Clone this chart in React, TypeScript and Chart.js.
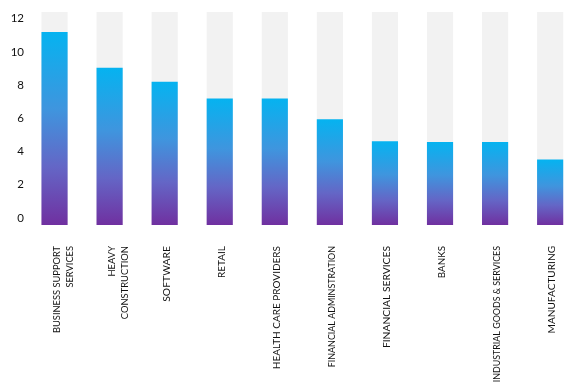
import React, { useEffect, useRef } from "react";
import { Chart, registerables } from "chart.js";

Chart.register(...registerables);

const categories: (string | string[])[] = [
  ["BUSINESS SUPPORT", "SERVICES"],
  ["HEAVY", "CONSTRUCTION"],
  "SOFTWARE",
  "RETAIL",
  "HEALTH CARE PROVIDERS",
  "FINANCIAL ADMINSTRATION",
  "FINANCIAL SERVICES",
  "BANKS",
  "INDUSTRIAL GOODS & SERVICES",
  "MANUFACTURING",
];

const values = [11.2, 9.05, 8.2, 7.2, 7.2, 5.95, 4.62, 4.58, 4.58, 3.52];
const trackValues = [12.4, 12.4, 12.4, 12.4, 12.4, 12.4, 12.4, 12.4, 12.4, 12.4];
const yTicks = [0, 2, 4, 6, 8, 10, 12];
const yMin = -0.42;
const yMax = 12.4;

const labelSizes = [9.3, 9.4, 10.4, 10, 10, 8.9, 10.3, 9.8, 8.9, 10.1];
const FONT = "Lato, 'Open Sans', sans-serif";

export default function App() {
  const ref = useRef<HTMLCanvasElement | null>(null);

  useEffect(() => {
    if (!ref.current) return;
    const chart = new Chart(ref.current, {
      type: "bar",
      data: {
        labels: categories,
        datasets: [
          {
            data: values,
            order: 1,
            base: yMin,
            grouped: false,
            categoryPercentage: 1,
            barPercentage: 0.475,
            borderWidth: 0,
            backgroundColor: (ctx: any) => {
              const c = ctx.chart;
              const ys = c.scales && c.scales.y;
              if (!ys || typeof ctx.raw !== "number") return "#3F95DE";
              const top = ys.getPixelForValue(ctx.raw);
              const bottom = ys.getPixelForValue(yMin);
              if (!isFinite(top) || !isFinite(bottom) || top === bottom) return "#3F95DE";
              const g = c.ctx.createLinearGradient(0, bottom, 0, top);
              g.addColorStop(0, "#7030A0");
              g.addColorStop(0.3, "#6466C6");
              g.addColorStop(0.6, "#3F95DE");
              g.addColorStop(1, "#05B3F0");
              return g;
            },
          } as any,
          {
            data: trackValues,
            order: 2,
            base: yMin,
            grouped: false,
            categoryPercentage: 1,
            barPercentage: 0.475,
            borderWidth: 0,
            backgroundColor: "#F2F2F2",
          } as any,
        ],
      },
      options: {
        animation: false,
        responsive: false,
        maintainAspectRatio: false,
        layout: { padding: { top: 12, right: 4, left: 0, bottom: 0 } },
        plugins: { legend: { display: false }, tooltip: { enabled: false } },
        scales: {
          x: {
            grid: { display: false, drawTicks: false },
            border: { display: false },
            afterFit: (s: any) => {
              s.height = 164;
            },
            ticks: {
              autoSkip: false,
              minRotation: 90,
              maxRotation: 90,
              padding: 21,
              labelOffset: 2,
              color: "#111",
              font: (ctx: any) => ({
                family: FONT,
                size: labelSizes[ctx.index] ?? 10,
                lineHeight: 1.45,
              }),
            },
          },
          y: {
            min: yMin,
            max: yMax,
            grid: { display: false, drawTicks: false },
            border: { display: false },
            afterFit: (s: any) => {
              s.width = 27;
            },
            afterBuildTicks: (s: any) => {
              s.ticks = yTicks.map((v) => ({ value: v }));
            },
            ticks: {
              padding: 3,
              color: "#111",
              font: { family: FONT, size: 11.5 },
            },
          },
        },
      },
    });
    return () => chart.destroy();
  }, []);

  return (
    <div style={{ position: "fixed", left: 0, top: 0, width: 586, height: 389, background: "#fff" }}>
      <canvas ref={ref} width={586} height={389} style={{ width: 586, height: 389, display: "block" }} />
    </div>
  );
}
